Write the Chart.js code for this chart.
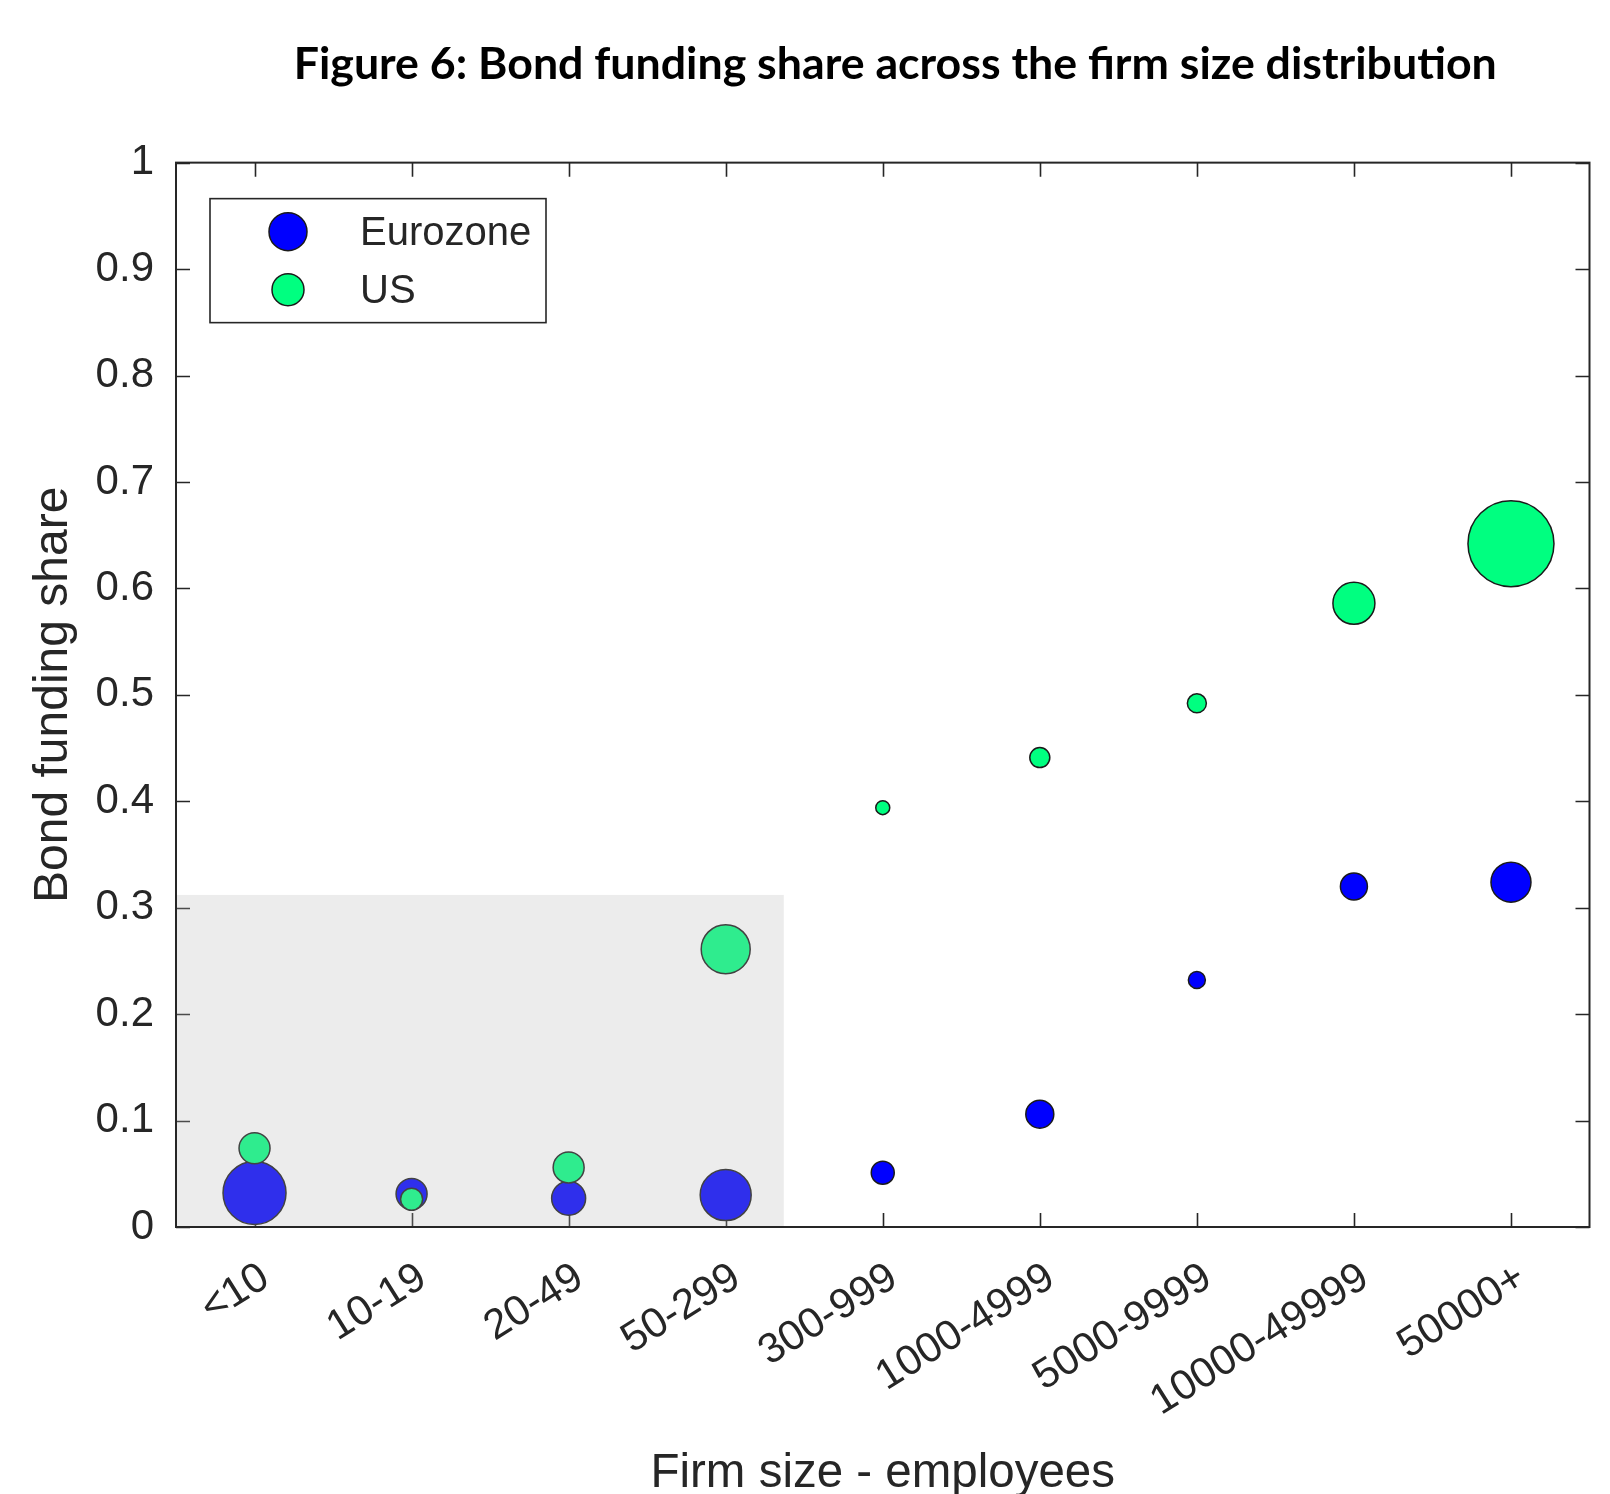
<!DOCTYPE html>
<html><head><meta charset="utf-8">
<script src="https://cdn.jsdelivr.net/npm/chart.js@4.4.1/dist/chart.umd.min.js"></script>
<style>html,body{margin:0;padding:0;background:#fff;overflow:hidden}canvas{display:block}</style>
</head><body>
<div style="width:1610px;height:1494px;position:relative"><canvas id="c" width="1610" height="1494"></canvas></div>
<script>
// ---- data ----
const categories = ['<10', '10-19', '20-49', '50-299', '300-999', '1000-4999', '5000-9999', '10000-49999', '50000+'];
const eurozoneShare = [0.032, 0.031, 0.027, 0.030, 0.051, 0.106, 0.232, 0.320, 0.324];
const usShare       = [0.074, 0.026, 0.056, 0.261, 0.394, 0.441, 0.492, 0.586, 0.642];
// relative bubble sizes (marker radius)
const eurozoneSize  = [31.5, 15.5, 17, 25.5, 11.5, 14, 8.5, 13.5, 20];
const usSize        = [15.5, 11, 15.5, 24.5, 7, 10, 9.5, 21, 43];
const seriesNames   = ['Eurozone', 'US'];
const yTickValues   = [0, 0.1, 0.2, 0.3, 0.4, 0.5, 0.6, 0.7, 0.8, 0.9, 1];
// shaded block: categories <10 .. 50-299, up to share 0.312
const shadeXFrom = -0.5, shadeXTo = 3.37, shadeYTo = 0.312;

const toPoints = (vals, sizes) => vals.map((v, i) => ({x: categories[i], y: v, r: sizes[i]}));
const AX = '#262626';
const FONT = "'Liberation Sans', Arial, Helvetica, sans-serif";

const framePlugin = {
  id: 'frame',
  afterLayout(chart) {
    // the figure title sits slightly right of the plot centre
    if (chart.titleBlock) chart.titleBlock.left += 25;
  },
  beforeDatasetsDraw(chart) {
    const {ctx, chartArea: a, scales: {x, y}} = chart;
    const tl = 14;
    ctx.save();
    ctx.strokeStyle = AX; ctx.lineWidth = 1.6;
    ctx.beginPath();
    categories.forEach((c, i) => {
      const px = Math.round(x.getPixelForValue(i)) + 0.5;
      ctx.moveTo(px, a.bottom); ctx.lineTo(px, a.bottom - tl);
      ctx.moveTo(px, a.top); ctx.lineTo(px, a.top + tl);
    });
    yTickValues.forEach(v => {
      const py = Math.round(y.getPixelForValue(v)) + 0.5;
      ctx.moveTo(a.left, py); ctx.lineTo(a.left + tl, py);
      ctx.moveTo(a.right, py); ctx.lineTo(a.right - tl, py);
    });
    ctx.stroke();
    ctx.restore();
  },
  afterDatasetsDraw(chart) {
    const {ctx, chartArea: a, scales: {x, y}} = chart;
    ctx.save();
    // translucent shaded block drawn over markers
    const x0 = x.getPixelForValue(shadeXFrom), x1 = x.getPixelForValue(shadeXTo);
    const y0 = y.getPixelForValue(0), y1 = y.getPixelForValue(shadeYTo);
    ctx.fillStyle = 'rgba(181,181,181,0.26)';
    ctx.fillRect(x0, y1, x1 - x0, y0 - y1);
    // axes box
    ctx.strokeStyle = AX; ctx.lineWidth = 2;
    ctx.strokeRect(a.left, a.top, a.right - a.left, a.bottom - a.top);
    // legend
    const lx = a.left + 34, ly = a.top + 36, lw = 336, lh = 124;
    ctx.fillStyle = '#fff';
    ctx.fillRect(lx, ly, lw, lh);
    ctx.lineWidth = 1.6; ctx.strokeStyle = AX;
    ctx.strokeRect(lx, ly, lw, lh);
    const ds = chart.data.datasets;
    const rows = [{cy: ly + 33, r: 19}, {cy: ly + 91, r: 16}];
    ds.forEach((d, i) => {
      const cx = lx + 78, cy = rows[i].cy;
      ctx.beginPath(); ctx.arc(cx, cy, rows[i].r, 0, Math.PI * 2);
      ctx.fillStyle = d.backgroundColor; ctx.fill();
      ctx.lineWidth = 1.5; ctx.strokeStyle = '#1a1a1a'; ctx.stroke();
      ctx.fillStyle = AX; ctx.font = `40px ${FONT}`;
      ctx.textBaseline = 'middle'; ctx.textAlign = 'left';
      ctx.fillText(d.label, lx + 150, cy + 2);
    });
    ctx.restore();
  }
};

new Chart(document.getElementById('c'), {
  type: 'bubble',
  data: {
    labels: categories,
    datasets: [
      {label: seriesNames[0], data: toPoints(eurozoneShare, eurozoneSize), backgroundColor: '#0000ff',
       borderColor: '#1a1a1a', borderWidth: 1.5, order: 2, clip: false},
      {label: seriesNames[1], data: toPoints(usShare, usSize), backgroundColor: '#00ff80',
       borderColor: '#1a1a1a', borderWidth: 1.5, order: 1, clip: false}
    ]
  },
  options: {
    responsive: false, animation: false, events: [],
    layout: {autoPadding: false, padding: {left: 0, right: 20.5, top: 0, bottom: 0}},
    plugins: {
      legend: {display: false}, tooltip: {enabled: false},
      title: {display: true, fullSize: false, text: 'Figure 6: Bond funding share across the firm size distribution',
        color: '#000', font: {family: "Lato, 'Open Sans', sans-serif", size: 44.7, weight: 'bold', lineHeight: 1.2},
        padding: {top: 38, bottom: 71}}
    },
    scales: {
      x: {
        type: 'category', offset: true,
        grid: {display: false, drawTicks: false}, border: {display: false},
        ticks: {color: AX, font: {family: FONT, size: 42}, minRotation: 32, maxRotation: 32, padding: 26, labelOffset: 11, autoSkip: false},
        title: {display: true, text: 'Firm size - employees', color: AX, font: {family: FONT, size: 47.5, lineHeight: 1}, padding: {top: 0, bottom: -4}},
        afterFit: s => { s.height = 267; s.paddingLeft = 0; s.paddingRight = 0; }
      },
      y: {
        min: 0, max: 1,
        afterBuildTicks: s => { s.ticks = yTickValues.map(v => ({value: v})); },
        grid: {display: false, drawTicks: false}, border: {display: false},
        ticks: {color: AX, font: {family: FONT, size: 42}, padding: 22, callback: v => String(+v.toFixed(1))},
        title: {display: true, text: 'Bond funding share', color: AX, font: {family: FONT, size: 48, lineHeight: 1}, padding: {top: 30, bottom: 0}},
        afterFit: s => { s.width = 176; s.paddingTop = 0; s.paddingBottom = 0; }
      }
    }
  },
  plugins: [framePlugin]
});
</script>
</body></html>
